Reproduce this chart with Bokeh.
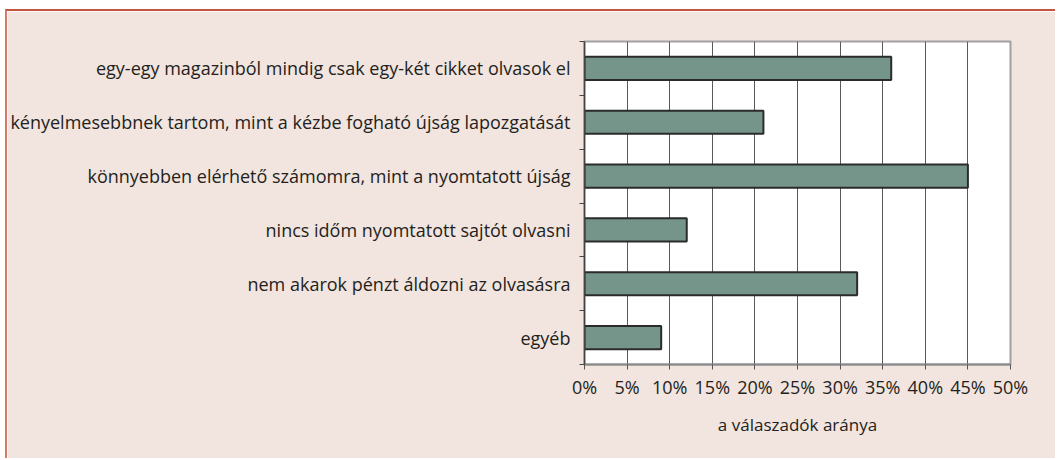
from bokeh.plotting import figure
from bokeh.models import FixedTicker, PrintfTickFormatter, ColumnDataSource, Range1d
from bokeh.embed import file_html
from bokeh.resources import INLINE

categories = [
    "egy-egy magazinból mindig csak egy-két cikket olvasok el",
    "kényelmesebbnek tartom, mint a kézbe fogható újság lapozgatását",
    "könnyebben elérhető számomra, mint a nyomtatott újság",
    "nincs időm nyomtatott sajtót olvasni",
    "nem akarok pénzt áldozni az olvasásra",
    "egyéb",
]
values = [36, 21, 45, 12, 32, 9]
x_ticks = [0, 5, 10, 15, 20, 25, 30, 35, 40, 45, 50]
x_title = "a válaszadók aránya"

n = len(categories)
ypos = [n - i - 0.5 for i in range(n)]
src = ColumnDataSource(dict(y=ypos, v=values, cat=categories))

FONT = "Open Sans"
TXT = "#231f20"
BG = "#f2e4de"

p = figure(width=1050, height=449, output_backend="svg", toolbar_location=None,
           x_range=Range1d(0, 50), y_range=Range1d(0, n),
           min_border_left=574, min_border_right=47, min_border_top=30, min_border_bottom=96)
p.styles = {"margin-left": "5px", "margin-top": "9px",
            "border-left": "2px solid #d57a68", "border-top": "2px solid #c4533f"}
p.background_fill_color = "white"
p.border_fill_color = BG
p.outline_line_color = "#a0a0a0"
p.outline_line_width = 2

p.hbar(y="y", right="v", left=0, height=0.43, source=src,
       fill_color="#76958a", line_color="#2b2b2b", line_width=2)

# x axis
xa = p.xaxis[0]
xa.ticker = FixedTicker(ticks=x_ticks, minor_ticks=[])
xa.formatter = PrintfTickFormatter(format="%d%%")
xa.axis_label = x_title
xa.axis_label_text_font = FONT
xa.axis_label_text_font_size = "17px"
xa.axis_label_text_font_style = "normal"
xa.axis_label_text_color = TXT
xa.axis_label_standoff = 11
xa.major_label_text_font = FONT
xa.major_label_text_font_size = "18px"
xa.major_label_text_color = TXT
xa.major_label_standoff = 5
xa.axis_line_color = "#8a8a8a"
xa.axis_line_width = 2
xa.major_tick_line_color = "#555555"
xa.major_tick_out = 5
xa.major_tick_in = 0

# y axis
ya = p.yaxis[0]
ya.ticker = FixedTicker(ticks=ypos, minor_ticks=list(range(n + 1)))
ya.major_label_overrides = {y: c for y, c in zip(ypos, categories)}
ya.major_label_text_font = FONT
ya.major_label_text_font_size = "18px"
ya.major_label_text_color = TXT
ya.major_label_standoff = 9
ya.major_tick_out = 0
ya.major_tick_in = 0
ya.minor_tick_out = 5
ya.minor_tick_in = 0
ya.minor_tick_line_color = "#444444"
ya.axis_line_color = "#444444"
ya.axis_line_width = 1.5

p.xgrid.ticker = FixedTicker(ticks=x_ticks)
p.xgrid.grid_line_color = "#5a5a5a"
p.xgrid.grid_line_width = 1
p.ygrid.grid_line_color = None

open("out.html", "w").write(file_html(p, INLINE))
